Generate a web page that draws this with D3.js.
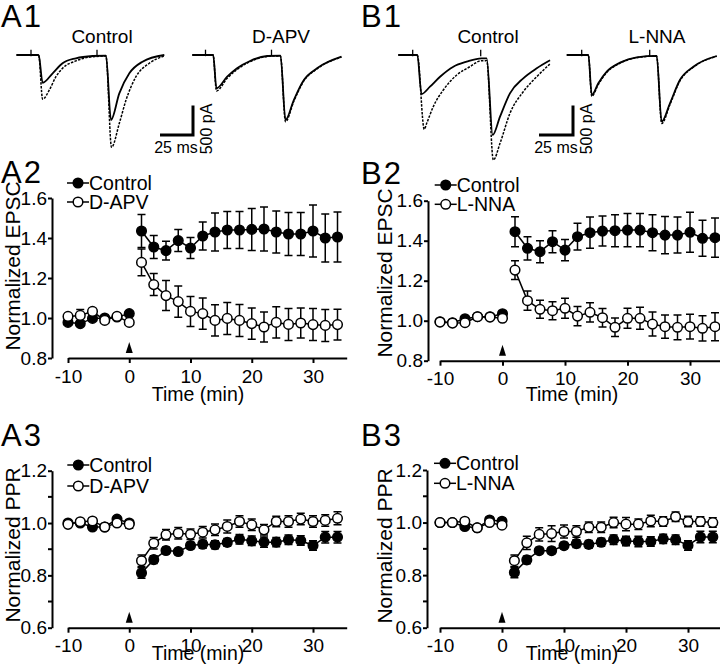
<!DOCTYPE html>
<html>
<head>
<meta charset="utf-8">
<script src="https://cdn.jsdelivr.net/npm/d3@7"></script>
<style>
  body { margin: 0; background: #fff; }
  svg { display: block; font-family: "Liberation Sans", Arial, sans-serif; }
</style>
</head>
<body>
<script>
// ---- time course data (min) ----
const timeMin = [-10, -8, -6, -4, -2, 0, 2, 4, 6, 8, 10, 12, 14, 16, 18, 20, 22, 24, 26, 28, 30, 32, 34];

// A2: normalized EPSC, Control vs D-APV
const a2Control = [0.978, 0.972, 0.998, 1.0, 1.005, 1.022, 1.435, 1.355, 1.337, 1.387, 1.35, 1.41, 1.43, 1.44, 1.44, 1.443, 1.445, 1.43, 1.42, 1.42, 1.435, 1.4, 1.405];
const a2ControlErr = [0.012, 0.012, 0.012, 0.01, 0.01, 0.012, 0.083, 0.057, 0.047, 0.055, 0.053, 0.07, 0.095, 0.092, 0.093, 0.105, 0.11, 0.105, 0.107, 0.108, 0.13, 0.12, 0.125];
const a2Apv = [1.008, 1.013, 1.033, 0.988, 1.008, 0.978, 1.278, 1.167, 1.112, 1.082, 1.033, 1.022, 0.988, 0.998, 0.988, 0.972, 0.955, 0.978, 0.968, 0.975, 0.967, 0.963, 0.967];
const a2ApvErr = [0.012, 0.03, 0.015, 0.01, 0.01, 0.012, 0.067, 0.055, 0.075, 0.078, 0.075, 0.078, 0.078, 0.08, 0.08, 0.078, 0.075, 0.078, 0.08, 0.075, 0.08, 0.08, 0.077];

// B2: normalized EPSC, Control vs L-NNA
const b2Control = [0.995, 0.99, 1.01, 1.02, 1.02, 1.035, 1.445, 1.362, 1.345, 1.395, 1.353, 1.42, 1.44, 1.448, 1.45, 1.453, 1.453, 1.44, 1.428, 1.428, 1.442, 1.412, 1.415];
const b2ControlErr = [0.01, 0.01, 0.01, 0.01, 0.01, 0.012, 0.075, 0.058, 0.055, 0.055, 0.053, 0.067, 0.078, 0.075, 0.08, 0.083, 0.083, 0.09, 0.093, 0.09, 0.1, 0.09, 0.098];
const b2Nna = [0.993, 0.988, 0.99, 1.02, 1.018, 1.012, 1.253, 1.1, 1.057, 1.05, 1.062, 1.023, 1.042, 1.015, 0.967, 1.012, 1.012, 0.983, 0.97, 0.967, 0.97, 0.962, 0.97];
const b2NnaErr = [0.01, 0.01, 0.01, 0.01, 0.01, 0.012, 0.047, 0.048, 0.045, 0.045, 0.05, 0.048, 0.048, 0.046, 0.046, 0.05, 0.055, 0.06, 0.058, 0.062, 0.062, 0.063, 0.07];

// A3: normalized PPR, Control vs D-APV
const a3Control = [1.0, 1.0, 0.985, 0.985, 1.015, 1.0, 0.809, 0.86, 0.895, 0.891, 0.914, 0.919, 0.917, 0.926, 0.938, 0.932, 0.927, 0.927, 0.936, 0.933, 0.914, 0.946, 0.946];
const a3ControlErr = [0.008, 0.008, 0.01, 0.008, 0.01, 0.01, 0.02, 0.015, 0.012, 0.012, 0.012, 0.015, 0.015, 0.015, 0.018, 0.018, 0.02, 0.018, 0.018, 0.018, 0.018, 0.022, 0.022];
const a3Apv = [0.995, 1.005, 1.008, 0.985, 1.0, 0.995, 0.856, 0.923, 0.955, 0.961, 0.957, 0.965, 0.974, 0.987, 1.006, 0.993, 0.974, 1.006, 1.006, 1.015, 1.006, 1.01, 1.018];
const a3ApvErr = [0.01, 0.008, 0.01, 0.008, 0.01, 0.015, 0.022, 0.022, 0.02, 0.022, 0.02, 0.022, 0.022, 0.025, 0.022, 0.022, 0.02, 0.02, 0.022, 0.022, 0.022, 0.022, 0.025];

// B3: normalized PPR, Control vs L-NNA
const b3Control = [1.0, 1.0, 0.985, 0.98, 1.01, 1.005, 0.81, 0.858, 0.893, 0.893, 0.912, 0.92, 0.917, 0.925, 0.935, 0.93, 0.928, 0.928, 0.938, 0.935, 0.913, 0.945, 0.945];
const b3ControlErr = [0.008, 0.008, 0.01, 0.008, 0.01, 0.01, 0.02, 0.015, 0.012, 0.012, 0.012, 0.015, 0.015, 0.015, 0.018, 0.018, 0.02, 0.018, 0.018, 0.018, 0.018, 0.022, 0.022];
const b3Nna = [1.0, 1.0, 1.005, 0.98, 1.0, 0.99, 0.855, 0.923, 0.955, 0.958, 0.966, 0.966, 0.982, 0.982, 1.0, 0.994, 0.994, 1.006, 1.004, 1.022, 1.004, 1.004, 1.0];
const b3NnaErr = [0.008, 0.008, 0.01, 0.008, 0.01, 0.012, 0.022, 0.025, 0.025, 0.03, 0.025, 0.022, 0.02, 0.02, 0.02, 0.025, 0.02, 0.022, 0.018, 0.018, 0.02, 0.018, 0.018];

const xTicks = [-10, 0, 10, 20, 30];
const epscTicks = [0.8, 1.0, 1.2, 1.4, 1.6];
const pprTicks = [0.6, 0.8, 1.0, 1.2];
const pprMinorTicks = [0.7, 0.9, 1.1];

// ---- example EPSC traces: [ms, pA] ----
const stimTimes = [0, 50];
const aCtrlSolid = [[-11, 0], [5.8, 0], [8.8, -470], [16.4, -310], [23.9, -140], [34, -56], [46.7, -17], [56.8, -10], [60.6, -1100], [66.9, -650], [74.5, -310], [84.5, -113], [101, 0]];
const aCtrlDashed = [[-11, 0], [5.8, 0], [8.8, -750], [13.9, -593], [18.9, -368], [23.9, -225], [34, -100], [46.7, -29], [56.8, -18], [61, -1565], [66.9, -1158], [72, -763], [79.5, -368], [89.6, -140], [101, -17]];
const aApvSolid = [[-10, 0], [5.8, 0], [8.3, -565], [16.4, -368], [23.9, -225], [34.1, -97], [46.7, -17], [56.8, -10], [60.6, -1100], [66.9, -763], [74.5, -424], [84.5, -225], [103, -29]];
const aApvDashed = [[-10, 0], [5.8, 0], [8.3, -610], [16.4, -395], [23.9, -245], [34.1, -110], [46.7, -25], [56.8, -15], [60.6, -1130], [66.9, -785], [74.5, -440], [84.5, -235], [103, -35]];
const bCtrlSolid = [[-10.6, 0], [3.4, 0], [6.5, -661], [12.7, -537], [20.1, -368], [29.9, -198], [39.7, -113], [50.5, -56], [54.4, -56], [58.8, -1356], [64.2, -1045], [71.5, -650], [81.3, -395], [91.2, -225], [101, -90]];
const bCtrlDashed = [[-10.6, 0], [3.4, 0], [8.5, -1260], [10.3, -1158], [15.1, -876], [22.5, -593], [32.4, -339], [42.1, -198], [50.5, -97], [54.4, -97], [59.3, -1780], [64.2, -1497], [71.5, -989], [81.3, -622], [91.2, -368], [101, -150]];
const bNnaSolid = [[-11, 0], [4.9, 0], [7.4, -678], [12.2, -480], [18.4, -283], [28.2, -130], [40.4, -39], [55.1, -15], [58.8, -1130], [64.9, -819], [72.2, -424], [82.1, -198], [99.3, -17]];
const bNnaDashed = [[-11, 0], [4.9, 0], [7.4, -700], [12.2, -500], [18.4, -295], [28.2, -138], [40.4, -45], [55.1, -18], [58.8, -1160], [64.9, -840], [72.2, -440], [82.1, -208], [99.3, -22]];

const FONT = '"Liberation Sans", Arial, sans-serif';

const svg = d3.select("body").append("svg")
    .attr("width", 720)
    .attr("height", 671);

svg.append("rect").attr("width", 720).attr("height", 671).attr("fill", "#fff");

// panel letters
[["A1", 1, 27], ["B1", 361, 27], ["A2", 1, 183], ["B2", 361, 184], ["A3", 1, 446], ["B3", 361, 446]].forEach(d => {
    svg.append("text")
        .attr("x", d[1]).attr("y", d[2])
        .style("font-size", "31px")
        .style("letter-spacing", "2px")
        .text(d[0]);
});

// ---------- traces ----------
function tracePanel(p) {
    let g = svg.append("g");
    let x = d3.scaleLinear().domain([0, 100]).range([p.stimX, p.stimX + 100 * p.pxPerMs]);
    let y = d3.scaleLinear().domain([0, -1000]).range([55, 55 + 1000 * 0.059]);
    let line = d3.line().x(d => x(d[0])).y(d => y(d[1])).curve(d3.curveMonotoneX);

    g.append("path").datum(p.dashed)
        .attr("d", line).attr("fill", "none").attr("stroke", "#000")
        .attr("stroke-width", 1.5).attr("stroke-dasharray", "2.5,1.3");
    g.append("path").datum(p.solid)
        .attr("d", line).attr("fill", "none").attr("stroke", "#000")
        .attr("stroke-width", 1.8);

    // stimulus artifacts
    g.selectAll(".stim").data(stimTimes).enter().append("line")
        .attr("x1", d => x(d)).attr("x2", d => x(d))
        .attr("y1", y(90)).attr("y2", y(-20))
        .attr("stroke", "#000").attr("stroke-width", 1.3);

    g.append("text")
        .attr("x", p.titleX).attr("y", 43)
        .attr("text-anchor", "middle")
        .style("font-size", "19px")
        .text(p.title);

    if (p.bar) {
        let x0 = p.bar.x, yb = 135;
        g.append("path")
            .attr("d", `M${x0 - 25 * p.pxPerMs},${yb}H${x0}V${yb - 500 * 0.059}`)
            .attr("fill", "none").attr("stroke", "#000").attr("stroke-width", 3);
        g.append("text")
            .attr("x", x0 - 17).attr("y", 153)
            .attr("text-anchor", "middle")
            .style("font-size", "16px")
            .text("25 ms");
        g.append("text")
            .attr("transform", `translate(${x0 + 13},${yb - 6}) rotate(-90)`)
            .attr("text-anchor", "middle")
            .attr("dy", "0.35em")
            .style("font-size", "16px")
            .text("500 pA");
    }
}

tracePanel({ stimX: 31, pxPerMs: 1.32, solid: aCtrlSolid, dashed: aCtrlDashed, title: "Control", titleX: 102, bar: { x: 193 } });
tracePanel({ stimX: 205.5, pxPerMs: 1.32, solid: aApvSolid, dashed: aApvDashed, title: "D-APV", titleX: 281 });
tracePanel({ stimX: 412.7, pxPerMs: 1.36, solid: bCtrlSolid, dashed: bCtrlDashed, title: "Control", titleX: 488, bar: { x: 573 } });
tracePanel({ stimX: 581.7, pxPerMs: 1.36, solid: bNnaSolid, dashed: bNnaDashed, title: "L-NNA", titleX: 657 });

// ---------- time courses ----------
function timecourse(p) {
    let g = svg.append("g");
    let x = d3.scaleLinear().domain([-10, 30]).range([p.left, p.right]);
    let y = d3.scaleLinear().domain(p.yDomain).range([p.bottom, p.top]);
    let xAxisScale = d3.scaleLinear().domain([-10, 35.5]).range([x(-10), x(35.5)]);

    let yAxisG = g.append("g")
        .attr("transform", `translate(${p.axisX},0)`)
        .call(d3.axisLeft(y).tickValues(p.yTicks).tickFormat(d3.format(".1f")).tickSize(4).tickPadding(1).tickSizeOuter(0));
    if (p.minor) {
        yAxisG.selectAll(".minor").data(p.minor).enter().append("line")
            .attr("x1", -4).attr("x2", 0)
            .attr("y1", d => y(d)).attr("y2", d => y(d));
    }
    let xAxisG = g.append("g")
        .attr("transform", `translate(0,${p.bottom})`)
        .call(d3.axisBottom(xAxisScale).tickValues(xTicks).tickFormat(d => String(d)).tickSize(5).tickPadding(p.xPad).tickSizeOuter(0));

    [yAxisG, xAxisG].forEach(a => {
        a.attr("font-family", FONT).attr("font-size", 19);
        a.selectAll("path, line").attr("stroke", "#000").attr("stroke-width", 2);
        a.selectAll("text").attr("fill", "#000");
    });

    // axis titles
    g.append("text")
        .attr("x", p.xTitleX).attr("y", p.xTitleY)
        .attr("text-anchor", "middle")
        .style("font-size", "19.5px")
        .text("Time (min)");
    g.append("text")
        .attr("transform", `translate(${p.yTitleX},${p.yTitleY}) rotate(-90)`)
        .attr("text-anchor", "middle")
        .attr("dy", "0.35em")
        .style("font-size", "21px")
        .text(p.yTitle);

    // induction arrowhead at t = 0
    let ax = x(0), ay = p.bottom;
    g.append("path")
        .attr("d", `M${ax},${ay - 16}L${ax + 3.5},${ay - 5}L${ax - 3.5},${ay - 5}Z`)
        .attr("fill", "#000");

    // series
    p.series.forEach(s => {
        let pts = timeMin.map((t, i) => ({ t: t, v: s.values[i], e: s.err[i] }));
        let line = d3.line().x(d => x(d.t)).y(d => y(d.v));
        let sg = g.append("g");
        [pts.filter(d => d.t <= 0), pts.filter(d => d.t > 0)].forEach(seg => {
            sg.append("path").datum(seg)
                .attr("d", line).attr("fill", "none")
                .attr("stroke", "#000").attr("stroke-width", 1.5);
        });
        sg.selectAll(".err").data(pts).enter().append("path")
            .attr("d", d => {
                let cx = x(d.t), y1 = y(d.v + d.e), y2 = y(d.v - d.e);
                return `M${cx},${y1}V${y2}M${cx - 4},${y1}H${cx + 4}M${cx - 4},${y2}H${cx + 4}`;
            })
            .attr("fill", "none").attr("stroke", "#000").attr("stroke-width", 1.5);
        sg.selectAll(".dot").data(pts).enter().append("circle")
            .attr("cx", d => x(d.t)).attr("cy", d => y(d.v))
            .attr("r", 4.8)
            .attr("fill", s.filled ? "#000" : "#fff")
            .attr("stroke", "#000").attr("stroke-width", 1.5);
    });

    // legend
    p.series.forEach((s, i) => {
        let ly = p.legendY[i];
        g.append("line")
            .attr("x1", p.legendX - 11).attr("x2", p.legendX + 11)
            .attr("y1", ly).attr("y2", ly)
            .attr("stroke", "#000").attr("stroke-width", 1.5);
        g.append("circle")
            .attr("cx", p.legendX).attr("cy", ly).attr("r", 4.8)
            .attr("fill", s.filled ? "#000" : "#fff")
            .attr("stroke", "#000").attr("stroke-width", 1.5);
        g.append("text")
            .attr("x", p.legendX + 11).attr("y", ly)
            .attr("dy", "0.35em")
            .style("font-size", "19.5px")
            .text(s.name);
    });
}

timecourse({
    left: 68, right: 313, top: 198, bottom: 358, axisX: 52, xPad: 6.5,
    yDomain: [0.8, 1.6], yTicks: epscTicks,
    yTitle: "Normalized EPSC", yTitleX: 13, yTitleY: 266,
    xTitleX: 198, xTitleY: 401,
    legendX: 78, legendY: [183, 202],
    series: [
        { name: "Control", values: a2Control, err: a2ControlErr, filled: true },
        { name: "D-APV", values: a2Apv, err: a2ApvErr, filled: false }
    ]
});

timecourse({
    left: 440, right: 690, top: 200.7, bottom: 360.7, axisX: 428, xPad: 5.8,
    yDomain: [0.8, 1.6], yTicks: epscTicks,
    yTitle: "Normalized EPSC", yTitleX: 385, yTitleY: 273,
    xTitleX: 572, xTitleY: 401,
    legendX: 445.7, legendY: [185, 204.3],
    series: [
        { name: "Control", values: b2Control, err: b2ControlErr, filled: true },
        { name: "L-NNA", values: b2Nna, err: b2NnaErr, filled: false }
    ]
});

timecourse({
    left: 68, right: 313, top: 470.7, bottom: 627.7, axisX: 52, xPad: 5.8,
    yDomain: [0.6, 1.2], yTicks: pprTicks, minor: pprMinorTicks,
    yTitle: "Normalized PPR", yTitleX: 13, yTitleY: 545,
    xTitleX: 198, xTitleY: 660,
    legendX: 78.3, legendY: [465, 486],
    series: [
        { name: "Control", values: a3Control, err: a3ControlErr, filled: true },
        { name: "D-APV", values: a3Apv, err: a3ApvErr, filled: false }
    ]
});

timecourse({
    left: 440, right: 688, top: 470, bottom: 627.7, axisX: 427, xPad: 5.8,
    yDomain: [0.6, 1.2], yTicks: pprTicks, minor: pprMinorTicks,
    yTitle: "Normalized PPR", yTitleX: 385, yTitleY: 546,
    xTitleX: 572, xTitleY: 660,
    legendX: 445, legendY: [463.3, 483.3],
    series: [
        { name: "Control", values: b3Control, err: b3ControlErr, filled: true },
        { name: "L-NNA", values: b3Nna, err: b3NnaErr, filled: false }
    ]
});
</script>
</body>
</html>
